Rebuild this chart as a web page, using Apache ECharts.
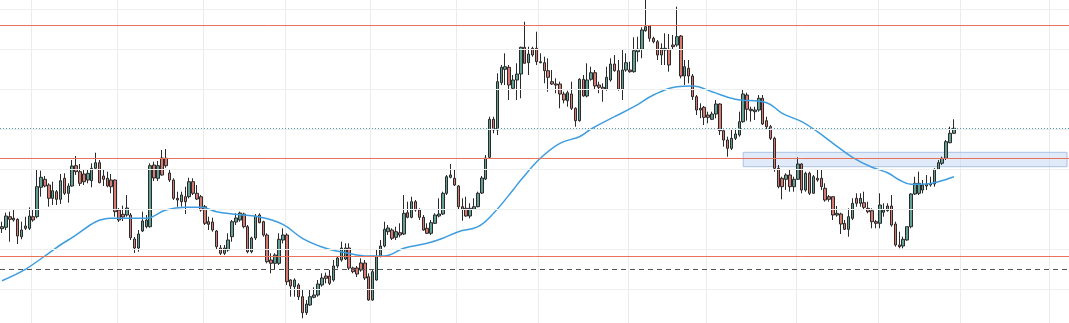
<!DOCTYPE html>
<html>
<head>
<meta charset="utf-8">
<script src="https://cdn.jsdelivr.net/npm/echarts@6/dist/echarts.min.js"></script>
<style>
html,body{margin:0;padding:0;background:#fff;}
#chart{width:1069px;height:323px;}
</style>
</head>
<body>
<div id="chart"></div>
<script>
// ---- data (price units) ----
const opens = [
100.3,101.7,112.3,109,109.7,92.3,100.7,100.7,112.3,112.3,
141.7,149.7,144,130.7,137.3,129.7,150.7,135.7,143,163.3,
157.3,155,149,148.3,160.7,166.3,153,150.7,149,149,
119,114.7,114,114,90,81,98,102.3,102.3,164,
150.7,171,170.7,156,149,130.7,127.3,132.3,132.3,147.3,
135.7,132.3,122.3,107.3,107,98,81,75.7,79,92.3,
107,109,115,102.3,77.3,91,114,107.3,94,69,
65.7,65.7,89,94,49,42.3,44,32.3,16.3,24,
31.7,34,44,53,53,49,63,69,70,81,
61,61,66,66,52.3,29,49,73,83,97.3,
99,91.7,96.3,95,116.3,111.7,127.3,119,111.7,100.7,
95.7,105.7,113,115,135.7,151.7,150.7,143,122.3,120.7,
113,119.7,122.3,136,150,171.7,209.7,199,246.3,259.7,
261.7,240.7,249,255,281.7,266.3,280.7,280.7,267.3,266.3,
258.3,247.3,245,245,235,228.3,235,220.7,208.3,249.7,
233,249.7,256.3,244,241.7,239.7,249,265,258.3,239.7,
259,259,257.3,277.3,279.7,298.3,303,290.7,287.3,280.7,
279,279.7,284,284,293,253,260.7,253,232.3,220.7,
221.7,214,209.7,215,225,198.3,189,180.7,190.7,194,
207.3,234,219.7,217.3,219,230.7,208.3,202.3,190.7,160.7,
150.7,149.7,154,142.3,149.7,165,139,155.7,135.7,150.7,
150.7,140.7,132.3,132.3,114,115,105.7,99.7,110.7,130.7,
125.7,126.3,120.7,118.3,107.3,105.7,116.7,118.3,123,105,
84,83,89,102.3,135,135.7,139,145,144,145,
159.7,165.7,170.7,186.3,195.7
];
const closes = [
102.3,113,109.7,110.7,93,99,103,113,109,142.3,
151.7,143,130.7,138.3,129.7,148.3,135.7,143,163,157.3,
145.7,147.3,155.7,160.7,166.3,146.3,149.7,143,142.3,117.3,
109,112,121,91.3,81,95,108,109,163.3,151,
163.3,154,163.3,149,130.7,129,134,127.3,147.3,135.7,
130,119,105.7,104.7,99,82.3,75.7,81,89,107.3,
111,116,102.3,77.3,91,113,106.3,94,67.3,65.7,
74,89.7,94,47.3,43,49,32.3,16.3,25,32.3,
34,45,51,50.7,45.7,63,71,81,81,61,
57.3,55,59,51,29,57.3,72.3,83,99.7,101,
90.7,97.3,94,115.7,111.7,127.3,119,111.7,99,95.7,
106.3,114,115,135.7,152.3,154,144,122.3,119.7,113,
120.7,122.3,135.7,151,171,209.7,199,247.3,261.7,262.3,
244,249,255,281.7,265.7,275,274,267.3,266.3,258.3,
251.7,245,244,235,229,236.3,220.7,208.3,249.7,233,
249,256.3,243,241.7,239.7,251.7,265,258.3,239.7,259,
266.3,257.3,278.3,279.7,299,302.3,290.7,287.3,274,274,
280.7,264,282.3,292.3,253,262.3,253,232.3,219,219,
211.7,211.7,215,225,198.3,189,180.7,190.7,195,207.3,
235,219.7,218.3,219,230.7,205,202.3,190.7,160.7,142.3,
142.3,154,142.3,149.7,165,139,155.7,135.7,152.3,149,
142.3,129,129.7,114,115.7,105,99.7,112.3,125.7,125.7,
130.7,121.7,117.3,107.3,105.7,124,119,123,104,84,
82.3,89.7,102.3,135,145.7,145.7,144,143,145.7,159.7,
166.3,170.7,187.3,195.7,200.7
];
const lows = [
96,99,87.3,107.3,85,89.7,99,99,107.3,110.7,
132.3,141.7,122.3,124,124,125,134,126.3,142.3,154,
143,144,145.7,141.7,159,145.7,143,141.7,135.7,112.3,
107,108,112.3,89,76,77.3,97,100.7,101.3,148,
148,153.3,161.3,147,129,122.3,122.3,115,130.7,134,
129,117.3,104,99,97.3,80,74,74,77.3,87.3,
104,107.3,100.7,75.7,75.7,89,105.7,92.3,65.7,55.7,
59,64,85.7,44,32.3,32.3,29,10.7,14,23,
30.7,32.3,42.3,45.7,44,47.3,60.7,67.3,69,59,
55.7,52,57.3,49,28.3,28.3,48.3,71.7,81.7,94,
89,89,91.7,94,110.7,110.7,117.3,109,98.3,95,
94,105,111.7,114,134,150.7,143,119,108.3,112.3,
110.7,119,121.7,135,149,170.7,195.7,194,244,244,
229,239,229,230.7,265.7,254,272.3,264,265.7,245.7,
237.3,244,235.7,220.7,225.7,222.3,219,202.3,207.3,232.3,
231.7,248.3,239,235.7,227.3,238.3,247.3,257.3,238.3,229,
257.3,256.3,256.3,267.3,270.7,297.3,287.3,285.7,269,264,
264,257.3,279,282.3,250.7,244,245.7,229,214,210.7,
204,205.7,209,210.7,194,182.3,172.3,179,189,192.3,
206.3,208.3,207.3,209,217.3,204,199,189,157.3,140.7,
129.7,139,137.3,137.3,149,135.7,137.3,134,135.7,147.3,
139,127.3,127.3,109,112.3,95,99,92.3,109,122.3,
122.3,119,115.7,100.7,100.7,100.7,112.3,117.3,102.3,82.3,
80.7,80.7,88.3,100.7,134,134,135.7,139,142.3,142.3,
159,164,169,185.7,195
];
const highs = [
107.3,116.3,117.3,119,110.7,107.3,112.3,121.7,119,159,
158.3,153,145.7,147.3,139,155,155.7,145.7,169,173,
165,159,159.7,165.7,176.3,169,159.7,157.3,155,149.7,
121,123.3,134,116,92,99,117.3,114,165.7,167.3,
168,179,180,159,150.7,137.3,137.3,142.3,151.3,150.7,
144,134,124,112.3,111.3,99,84,84,95.7,109,
115.7,117.3,116.3,104,92.3,115,115.7,108.3,95.7,75.7,
75.7,95.7,100.7,95.7,49.7,50.7,45.7,39,29,39,
41.7,49,55.7,56.3,59,69,72.3,87.3,85.7,85.7,
62.3,63,70.7,69,55.7,59,79.7,89,107.3,104,
100.7,102.3,105.7,134,127.3,132.3,129,120.7,114,105.7,
109,115.7,130.7,137.3,154,165,159,144,130.7,132.3,
125.7,130.7,137.3,153,174,212.3,212.3,255.7,264,275.7,
264,254,265.7,282.3,307.3,282.3,282.3,297.3,275.7,272.3,
270.7,259,250.7,247.3,237.3,238.3,247.3,221.7,250.7,254,
265.7,262.3,259,247.3,245.7,262.3,270.7,274,269,279,
275.7,267.3,291.7,292.3,301.7,329,304,292.3,289,285.7,
295.7,295,294,322.3,294,269,269,255,234,225.7,
223,217.3,217.3,229,225.7,199,192.3,199,199,217.3,
239,236.3,222.3,222.3,234,234,212.3,204,192.3,164,
152.3,155.7,159,152.3,171.7,165.7,157.3,157.3,154,159,
159,145.7,134,132.3,123,116.3,109,120.7,130.7,135.7,
135.7,137.3,127.3,120.7,109,135.7,125.7,125.7,134,107.3,
97.3,92.3,102.3,135.7,152.3,157.3,149,154,152.3,160.7,
169,172.3,189,202.3,209.7
];
// moving average, read at these bar indices
const maIndex = [0,6,11,17,28,37,42,47,51,55,59,66,72,77,83,88,94,98,103,109,113,117,122,126,131,133,138,143,148,151,157,162,167,173,177,182,188,196,200,205,209,213,218,223,227,230,233,237,240,244];
const maValue = [48.3,59.7,73,89,110.7,110.7,119,121.7,121.7,117.3,115,112,104.7,90.7,80.7,76.3,73,73,80.7,85.7,90.7,97.3,102.3,115.7,139,149,170.7,185.7,192.3,200,212.3,222.3,234,242.3,243,237.3,229.7,226.3,215.7,207.3,197.3,185.7,171.7,161.7,156.3,149,144.7,145,147.3,152.3];
// horizontal levels
const redLevels = [303.7, 170.7, 73];
const dottedLevel = [200.7];
const dashedLevel = [59.7];
const zoneRange = [162.3, 176.7];
const zoneStartIndex = 190;
// price grid levels and month boundary ticks (category indices)
const priceGrid = [40, 80, 120, 160, 200, 240, 280, 320];
const gridTicks = [8,30,52,73,95,117,138,161,181,204,225,246,269];
const totalSlots = 274;
const categories = Array.from({length: totalSlots}, (_, i) => 'D' + (i + 1));

// ---- build ----
const candleData = opens.map((o, i) => [o, closes[i], lows[i], highs[i]]);
const maData = new Array(opens.length).fill(null);
maIndex.forEach((idx, k) => { maData[idx] = maValue[k]; });

function levelSeries(values, style, z) {
  return {
    type: 'line', data: [], silent: true, z: z,
    markLine: {
      silent: true, symbol: ['none', 'none'], label: {show: false}, animation: false,
      lineStyle: style, emphasis: {disabled: true},
      data: values.map(v => ({yAxis: v, lineStyle: style}))
    }
  };
}

const chart = echarts.init(document.getElementById('chart'), null, {renderer: 'canvas'});
chart.setOption({
  animation: false,
  backgroundColor: '#ffffff',
  grid: {left: 0, right: 0, top: 0, bottom: 0, containLabel: false},
  xAxis: {
    type: 'category', data: categories, boundaryGap: true,
    axisLine: {show: false}, axisTick: {show: false}, axisLabel: {show: false},
    splitLine: {show: true, interval: (i) => gridTicks.includes(i), lineStyle: {color: '#ebebeb', width: 1}}
  },
  yAxis: {
    type: 'value', min: 6, max: 329, scale: false,
    axisLine: {show: false}, axisTick: {show: false}, axisLabel: {show: false},
    splitLine: {show: false}
  },
  series: [
    levelSeries(priceGrid, {color: '#eeeeee', width: 1, type: 'solid'}, 0),
    {
      type: 'candlestick',
      data: candleData,
      barWidth: 3,
      z: 2,
      itemStyle: {
        color: '#62a096', color0: '#d67a72',
        borderColor: '#2a2a2a', borderColor0: '#2a2a2a', borderWidth: 1
      },
      markArea: {
        silent: true,
        itemStyle: {color: 'rgba(196,214,243,0.5)', borderColor: '#a9c1e6', borderWidth: 1},
        data: [[{xAxis: categories[zoneStartIndex], yAxis: zoneRange[1]}, {xAxis: categories[totalSlots - 1], yAxis: zoneRange[0]}]]
      }
    },
    levelSeries(redLevels, {color: '#e8735a', width: 1, type: 'solid', opacity: 1}, 3),
    levelSeries(dottedLevel, {color: '#4f9aab', width: 1, type: [1, 2], opacity: 1}, 3),
    levelSeries(dashedLevel, {color: '#555555', width: 1, type: [5, 4], opacity: 1}, 3),
    {
      type: 'line',
      data: maData,
      connectNulls: true,
      smooth: 0.4,
      showSymbol: false,
      symbol: 'none',
      lineStyle: {color: '#3d9de0', width: 1.5},
      z: 4
    }
  ]
});
</script>
</body>
</html>
